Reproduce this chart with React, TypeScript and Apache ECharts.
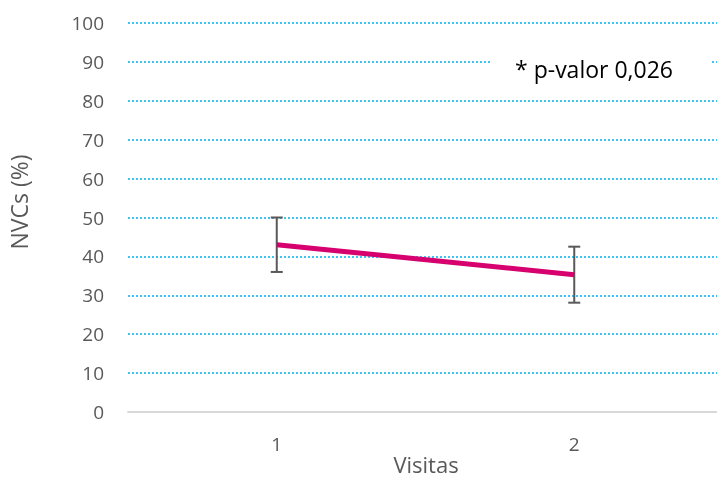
import React, { useEffect, useRef } from "react";
import * as echarts from "echarts";

const categories = ["1", "2"];
const meanValues = [43, 35.3];
const errorValues = [7, 7.2];
const yTicks = { min: 0, max: 100, interval: 10 };
const annotation = "* p-valor 0,026";
const yTitle = "NVCs (%)";
const xTitle = "Visitas";

const FONT = "Open Sans";

export default function App() {
  const ref = useRef<HTMLDivElement>(null);
  useEffect(() => {
    if (!ref.current) return;
    document.body.style.margin = "0";
    document.body.style.overflow = "hidden";
    const chart = echarts.init(ref.current, undefined, { renderer: "svg" });
    const errData = meanValues.map((v, i) => [i, v - errorValues[i], v + errorValues[i]]);
    chart.setOption({
      animation: false,
      textStyle: { fontFamily: FONT },
      grid: {
        left: 128,
        right: 0,
        top: 23,
        bottom: 66,
        containLabel: false,
        outerBoundsMode: "none",
      },
      xAxis: {
        type: "category",
        data: categories,
        axisLine: { lineStyle: { color: "#D9D9D9", width: 2 } },
        axisTick: { show: false },
        axisLabel: { color: "#595959", fontSize: 19, margin: 22, fontFamily: FONT },
        splitLine: { show: false },
      },
      yAxis: {
        type: "value",
        min: yTicks.min,
        max: yTicks.max,
        interval: yTicks.interval,
        axisLine: { show: false },
        axisTick: { show: false },
        axisLabel: { color: "#595959", fontSize: 19, margin: 24, fontFamily: FONT },
        splitLine: { lineStyle: { color: "#00B0F0", type: [2, 2], width: 1.5 } },
      },
      series: [
        {
          type: "line",
          data: meanValues,
          symbol: "none",
          lineStyle: { color: "#D6006F", width: 5 },
          z: 3,
        },
        {
          type: "custom",
          data: errData,
          z: 2,
          renderItem: (params: any, api: any) => {
            const idx = api.value(0);
            const lo = api.coord([idx, api.value(1)]);
            const hi = api.coord([idx, api.value(2)]);
            const half = 6;
            const style = { stroke: "#595959", lineWidth: 2 };
            return {
              type: "group",
              children: [
                { type: "line", shape: { x1: hi[0], y1: hi[1], x2: lo[0], y2: lo[1] }, style },
                { type: "line", shape: { x1: hi[0] - half, y1: hi[1], x2: hi[0] + half, y2: hi[1] }, style },
                { type: "line", shape: { x1: lo[0] - half, y1: lo[1], x2: lo[0] + half, y2: lo[1] }, style },
              ],
            };
          },
        },
      ],
      graphic: [
        {
          type: "text",
          x: 19,
          y: 202,
          rotation: Math.PI / 2,
          style: {
            text: yTitle,
            fontSize: 23,
            fill: "#595959",
            fontFamily: FONT,
            align: "center",
            verticalAlign: "middle",
          },
        },
        {
          type: "text",
          x: 426,
          y: 464,
          style: {
            text: xTitle,
            fontSize: 22,
            fill: "#595959",
            fontFamily: FONT,
            align: "center",
            verticalAlign: "middle",
          },
        },
        {
          type: "rect",
          shape: { x: 492, y: 46, width: 218, height: 44 },
          style: { fill: "#FFFFFF" },
          z: 10,
        },
        {
          type: "text",
          x: 594,
          y: 69,
          style: {
            text: annotation,
            fontSize: 23,
            fill: "#000000",
            fontFamily: FONT,
            align: "center",
            verticalAlign: "middle",
          },
          z: 11,
        },
      ],
    });
    return () => chart.dispose();
  }, []);
  return (
    <div
      style={{
        position: "fixed",
        left: 0,
        top: 0,
        width: 717,
        height: 478,
        overflow: "hidden",
      }}
    >
      <div ref={ref} style={{ width: 723, height: 478 }} />
    </div>
  );
}
